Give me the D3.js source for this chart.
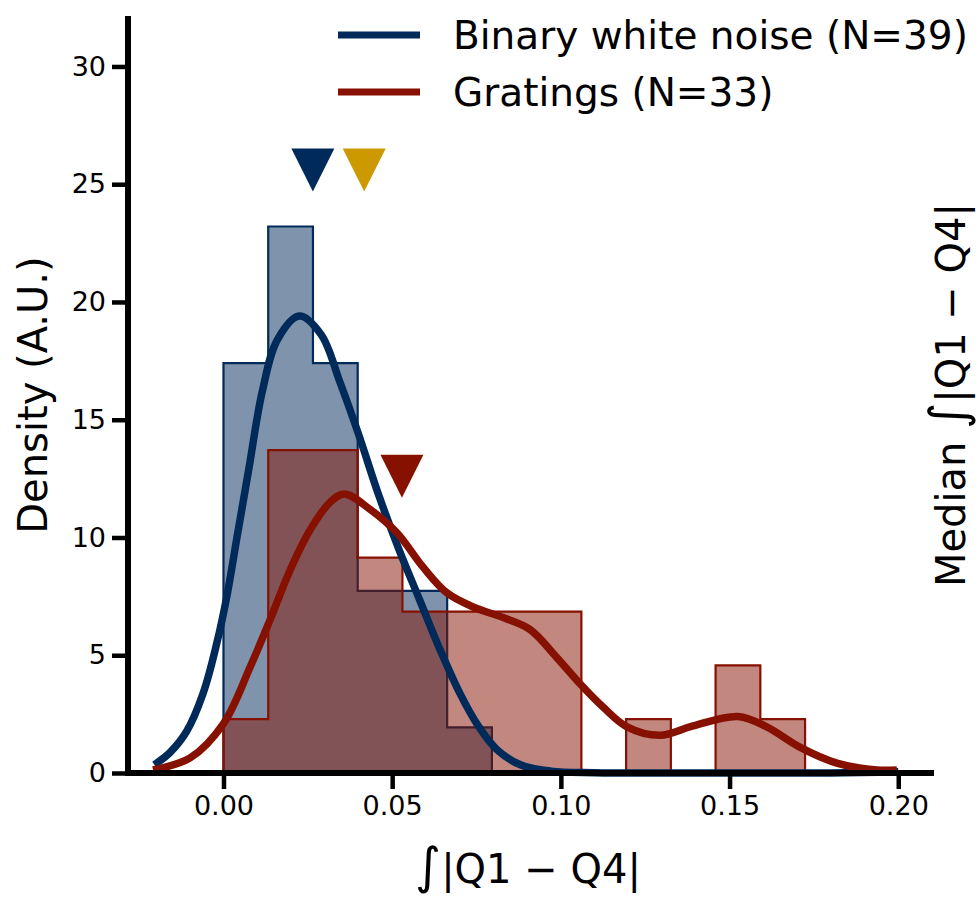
<!DOCTYPE html>
<html>
<head>
<meta charset="utf-8">
<script src="https://cdn.jsdelivr.net/npm/d3@7"></script>
<style>
  body { margin: 0; background: #fff; }
  text { font-family: "DejaVu Sans", sans-serif; fill: #000; }
</style>
</head>
<body>
<svg id="chart" width="979" height="897"></svg>
<script>
// Histogram bins (shared edges) and per-bin counts for each stimulus set
const binStart = 0;
const binWidth = 0.01326;
const noiseCounts = [9, 12, 9, 4, 4, 1];
const gratingCounts = [1, 6, 6, 4, 3, 3, 3, 3, 0, 1, 0, 2, 1];
const noiseN = 39;
const gratingN = 33;

// Kernel density curves: [value, density]
const noiseKde = [
  [-0.0205, 0.35], [-0.016, 0.85], [-0.011, 1.75], [-0.006, 3.4], [-0.002, 5.5],
  [0.001, 7.5], [0.004, 10.0], [0.0075, 12.9], [0.0115, 16.2], [0.016, 18.4],
  [0.0225, 19.4], [0.029, 18.6], [0.0345, 16.6], [0.040, 14.4], [0.046, 11.8],
  [0.052, 9.5], [0.058, 7.4], [0.064, 5.3], [0.070, 3.4], [0.0755, 2.0],
  [0.081, 1.0], [0.088, 0.35], [0.097, 0.08], [0.11, 0.01], [0.14, 0.0],
  [0.18, 0.0], [0.2, 0.05]
];
const gratingKde = [
  [-0.0209, 0.13], [-0.0099, 0.64], [0.0, 2.1], [0.0079, 4.5], [0.0138, 6.5],
  [0.0197, 8.6], [0.0256, 10.3], [0.0316, 11.5], [0.0358, 11.85], [0.0434, 11.2],
  [0.0514, 10.2], [0.0591, 8.75], [0.0662, 7.65], [0.074, 7.05], [0.0829, 6.6],
  [0.0908, 6.1], [0.0988, 4.9], [0.1056, 3.8], [0.1125, 2.8], [0.1196, 1.96],
  [0.1294, 1.6], [0.1392, 2.0], [0.1525, 2.4], [0.161, 1.96], [0.1708, 1.1],
  [0.1818, 0.42], [0.1937, 0.13], [0.1996, 0.13]
];

// Median markers: [value, level]
const medianValues = [0.0265, 0.0417, 0.0529];
const medianLevels = [25.6, 25.6, 12.6];

const xTicks = [0.00, 0.05, 0.10, 0.15, 0.20];
const yTicks = [0, 5, 10, 15, 20, 25, 30];
const seriesNames = ["Binary white noise (N=39)", "Gratings (N=33)"];

const navy = "#002a5a";
const red = "#861100";
const gold = "#cc9a00";
const medianColors = [navy, gold, red];

const svg = d3.select("#chart");
const x = d3.scaleLinear().domain([-0.0283, 0.2103]).range([128, 933]);
const y = d3.scaleLinear().domain([0, 32.1]).range([773, 17]);

// step outline of a density histogram
function stepPoints(counts, n) {
  const pts = [[binStart, 0]];
  counts.forEach((c, i) => {
    const h = c / (n * binWidth);
    pts.push([binStart + i * binWidth, h]);
    pts.push([binStart + (i + 1) * binWidth, h]);
  });
  pts.push([binStart + counts.length * binWidth, 0]);
  return pts;
}
const lineLin = d3.line().x(d => x(d[0])).y(d => y(d[1]));

const hists = [
  { counts: noiseCounts, n: noiseN, color: navy },
  { counts: gratingCounts, n: gratingN, color: red }
];
hists.forEach(h => {
  svg.append("path")
    .attr("d", lineLin(stepPoints(h.counts, h.n)) + "Z")
    .attr("fill", h.color).attr("fill-opacity", 0.5)
    .attr("stroke", h.color).attr("stroke-width", 2.2)
    .attr("stroke-linejoin", "miter");
});

const kdeLine = d3.line().x(d => x(d[0])).y(d => y(d[1])).curve(d3.curveCatmullRom.alpha(0.5));
[[noiseKde, navy], [gratingKde, red]].forEach(([pts, c]) => {
  svg.append("path").attr("d", kdeLine(pts))
    .attr("fill", "none").attr("stroke", c).attr("stroke-width", 7.5)
    .attr("stroke-linecap", "butt");
});

// median triangles pointing down
const triHalf = 21.5;
medianValues.forEach((v, i) => {
  const cx = x(v), cy = y(medianLevels[i]);
  svg.append("path")
    .attr("d", `M${cx - triHalf},${cy - triHalf}L${cx + triHalf},${cy - triHalf}L${cx},${cy + triHalf}Z`)
    .attr("fill", medianColors[i]);
});

// axes
const xAxis = svg.append("g").attr("transform", "translate(0,773)")
  .call(d3.axisBottom(x).tickValues(xTicks).tickFormat(d3.format(".2f")).tickSize(16).tickSizeOuter(0).tickPadding(7));
const yAxis = svg.append("g").attr("transform", "translate(128,0)")
  .call(d3.axisLeft(y).tickValues(yTicks).tickSize(16).tickSizeOuter(0).tickPadding(6));
[xAxis, yAxis].forEach(g => {
  g.select(".domain").remove();
  g.selectAll(".tick line").attr("stroke", "#000").attr("stroke-width", 4.5);
  g.selectAll(".tick text").style("font-size", "27px").attr("fill", "#000");
});
svg.append("line").attr("x1", 128).attr("x2", 128).attr("y1", 16).attr("y2", 776)
  .attr("stroke", "#000").attr("stroke-width", 6);
svg.append("line").attr("x1", 125).attr("x2", 934).attr("y1", 773).attr("y2", 773)
  .attr("stroke", "#000").attr("stroke-width", 6);

// axis titles
const xLabel = svg.append("text").attr("x", 528).attr("y", 883)
  .attr("text-anchor", "middle").style("font-size", "40px");
xLabel.append("tspan").text("∫").style("font-size", "50px");
xLabel.append("tspan").text("|Q1 − Q4|");

svg.append("text").attr("transform", "translate(47,395) rotate(-90)")
  .attr("text-anchor", "middle").style("font-size", "40px").text("Density (A.U.)");

const rLabel = svg.append("text").attr("transform", "translate(965,395) rotate(-90)")
  .attr("text-anchor", "middle").style("font-size", "40px");
rLabel.append("tspan").text("Median ");
rLabel.append("tspan").text("∫").style("font-size", "50px");
rLabel.append("tspan").text("|Q1 − Q4|");

// legend
const legend = svg.append("g");
[navy, red].forEach((c, i) => {
  const ly = 35 + i * 57;
  legend.append("line").attr("x1", 338).attr("x2", 420).attr("y1", ly).attr("y2", ly)
    .attr("stroke", c).attr("stroke-width", 7);
  legend.append("text").attr("x", 453).attr("y", ly + 14).style("font-size", "39px")
    .text(seriesNames[i]);
});
</script>
</body>
</html>
